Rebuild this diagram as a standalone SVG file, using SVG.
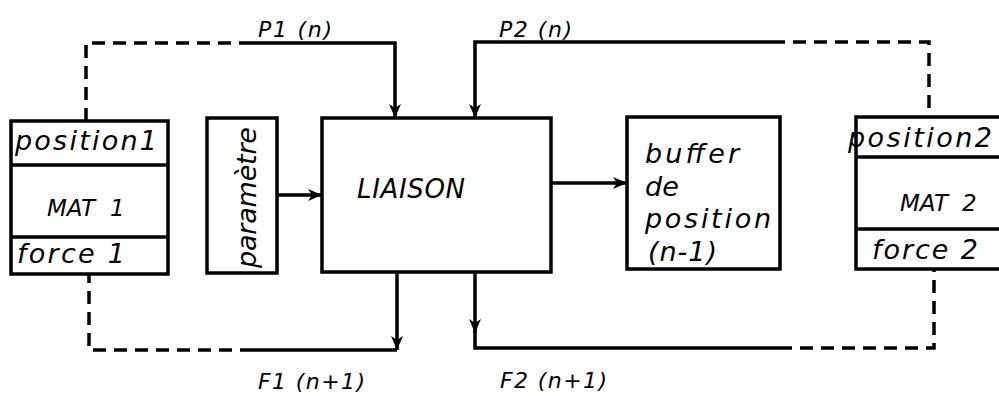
<svg xmlns="http://www.w3.org/2000/svg" width="999" height="396" viewBox="0 0 999 396">
<defs>
<style>
.box{fill:#fff;stroke:#000;stroke-width:3.5}
.ln{fill:none;stroke:#000;stroke-width:3.5}
.dash{fill:none;stroke:#000;stroke-width:3.5;stroke-dasharray:13 8}
text{font-family:"DejaVu Sans","Liberation Sans",sans-serif;font-style:oblique;font-size:27px;fill:#000}
.lbl{font-size:22px}
.cap{font-size:26px}
.mat{font-size:23px}
</style>
<marker id="ah" viewBox="0 0 14 14" refX="14" refY="7" markerWidth="18" markerHeight="14" markerUnits="userSpaceOnUse" orient="auto">
<path d="M0,1 L14,7 L0,13 L4,7 z" fill="#000"/>
</marker>
</defs>
<rect width="999" height="396" fill="#fff"/>
<g id="connectors">
<path class="dash" d="M86,121 V43 H247"/>
<path class="ln" d="M247,43 H395 V118" marker-end="url(#ah)"/>
<path class="ln" d="M772,42 H475 V118" marker-end="url(#ah)"/>
<path class="dash" d="M772,42 H929 V117"/>
<path class="ln" d="M277,195 H322" marker-end="url(#ah)"/>
<path class="ln" d="M551,183 H627" marker-end="url(#ah)"/>
<path class="ln" d="M397,272 V350" marker-end="url(#ah)"/>
<path class="ln" d="M397,350 H253"/>
<path class="dash" d="M253,350 H89 V274"/>
<path class="ln" d="M475,272 V333" marker-end="url(#ah)"/>
<path class="ln" d="M475,330 V348 H779"/>
<path class="dash" d="M779,348 H934 V269"/>
<text class="lbl" x="258" y="37" textLength="74" lengthAdjust="spacing">P1 (n)</text>
<text class="lbl" x="499" y="37" textLength="73" lengthAdjust="spacing">P2 (n)</text>
<text class="lbl" x="258" y="389" textLength="107" lengthAdjust="spacing">F1 (n+1)</text>
<text class="lbl" x="500" y="388" textLength="107" lengthAdjust="spacing">F2 (n+1)</text>
</g>
<g id="mat1">
<rect class="box" x="11" y="121" width="157" height="153"/>
<line class="ln" x1="11" y1="165" x2="168" y2="165"/>
<line class="ln" x1="11" y1="237" x2="168" y2="237"/>
<text x="15" y="150" textLength="142" lengthAdjust="spacing">position1</text>
<text class="mat" x="47" y="216">MAT<tspan x="110">1</tspan></text>
<text x="17" y="263" textLength="108" lengthAdjust="spacing">force  1</text>
</g>
<g id="parametre">
<rect class="box" x="207" y="118" width="70" height="155"/>
<text transform="translate(256,268) rotate(-90)" textLength="141" lengthAdjust="spacing">paramètre</text>
</g>
<g id="liaison">
<rect class="box" x="322" y="118" width="229" height="154"/>
<text class="cap" x="357" y="198" textLength="108" lengthAdjust="spacing">LIAISON</text>
</g>
<g id="buffer">
<rect class="box" x="627" y="117" width="153" height="152"/>
<text x="645" y="163" textLength="94" lengthAdjust="spacing">buffer</text>
<text x="645" y="196">de</text>
<text x="645" y="228" textLength="126" lengthAdjust="spacing">position</text>
<text x="648" y="261" textLength="69" lengthAdjust="spacing">(n-1)</text>
</g>
<g id="mat2">
<rect class="box" x="856" y="117" width="160" height="152"/>
<line class="ln" x1="856" y1="157" x2="1016" y2="157"/>
<line class="ln" x1="856" y1="229" x2="1016" y2="229"/>
<text x="848" y="147" textLength="144" lengthAdjust="spacing">position2</text>
<text class="mat" x="900" y="211">MAT<tspan x="962">2</tspan></text>
<text x="872" y="259" textLength="106" lengthAdjust="spacing">force  2</text>
</g>
</svg>
